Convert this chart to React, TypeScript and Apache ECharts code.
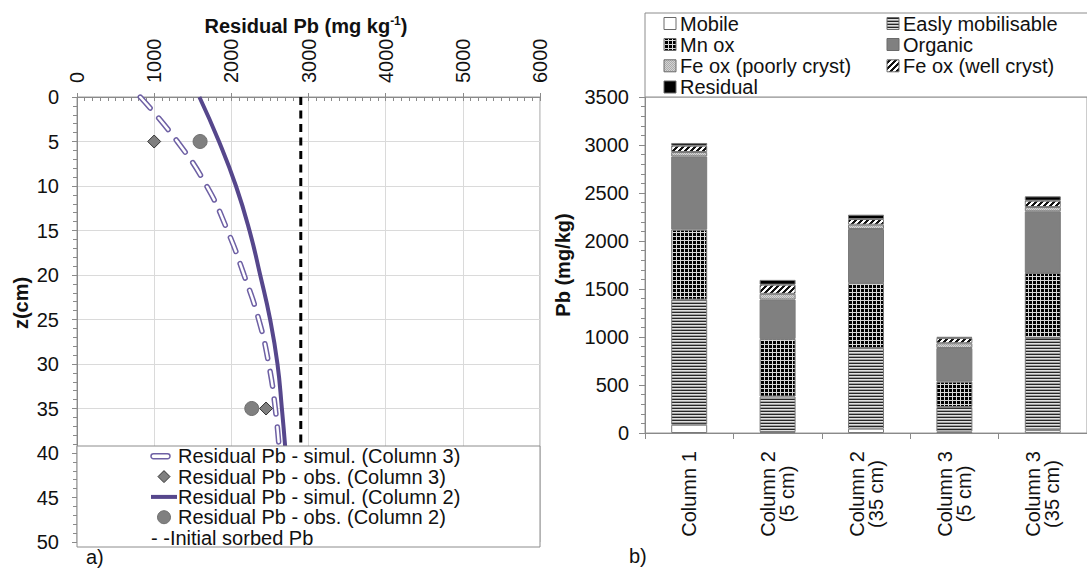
import React, { useEffect, useRef } from 'react';
import * as echarts from 'echarts';

// ---------- Panel a) data ----------
const depthSimul = [0, 5, 10, 15, 20, 25, 30, 35, 39.5];
const simulCol3 = [820, 1300, 1680, 1950, 2165, 2355, 2485, 2570, 2620];
const simulCol2 = [1586, 1840, 2060, 2235, 2374, 2503, 2598, 2655, 2700];
const depthObs = [5, 35];
const obsCol3 = [1000, 2450];
const obsCol2 = [1595, 2265];
const initialSorbedPb = 2900;
const initialDepth = [0, 40];

const legendA = [
  'Residual Pb - simul. (Column 3)',
  'Residual Pb - obs. (Column 3)',
  'Residual Pb - simul. (Column 2)',
  'Residual Pb - obs. (Column 2)',
  '- -Initial sorbed Pb',
];

// ---------- Panel b) data ----------
const columns = ['Column 1', 'Column 2\n(5 cm)', 'Column 2\n(35 cm)', 'Column 3\n(5 cm)', 'Column 3\n(35 cm)'];
const fractions = ['Mobile', 'Easly mobilisable', 'Mn ox', 'Organic', 'Fe ox (poorly cryst)', 'Fe ox (well cryst)', 'Residual'];
const mobile = [86, 10, 45, 15, 30];
const easlyMobilisable = [1303, 370, 840, 255, 960];
const mnOx = [729, 600, 677, 265, 677];
const organic = [763, 410, 563, 350, 642];
const feOxPoor = [46, 60, 45, 50, 45];
const feOxWell = [66, 95, 59, 55, 66];
const residual = [28, 50, 45, 12, 45];
const fractionValues = [mobile, easlyMobilisable, mnOx, organic, feOxPoor, feOxWell, residual];

const FONT = '"Liberation Sans", Arial, Helvetica, sans-serif';
const PURPLE = '#56478c';
const PURPLE_LIGHT = '#6e60a4';

function makePattern(w: number, h: number, draw: (ctx: CanvasRenderingContext2D) => void) {
  const c = document.createElement('canvas');
  c.width = w;
  c.height = h;
  const ctx = c.getContext('2d')!;
  draw(ctx);
  return { image: c.toDataURL(), repeat: 'repeat', imageWidth: w, imageHeight: h } as any;
}

function buildFills() {
  const easy = makePattern(4, 3, (ctx) => {
    ctx.fillStyle = '#e0e0e0';
    ctx.fillRect(0, 0, 4, 3);
    ctx.fillStyle = '#262626';
    ctx.fillRect(0, 0, 4, 1);
    ctx.fillStyle = '#a0a0a0';
    ctx.fillRect(0, 2, 4, 1);
  });
  const mn = makePattern(4, 4, (ctx) => {
    ctx.fillStyle = '#000';
    ctx.fillRect(0, 0, 4, 4);
    ctx.fillStyle = '#d8d8d8';
    ctx.fillRect(0, 0, 4, 1);
    ctx.fillRect(0, 0, 1, 4);
  });
  const fePoor = makePattern(2, 2, (ctx) => {
    ctx.fillStyle = '#d4d4d4';
    ctx.fillRect(0, 0, 2, 2);
    ctx.fillStyle = '#aaaaaa';
    ctx.fillRect(0, 0, 1, 1);
    ctx.fillRect(1, 1, 1, 1);
  });
  const feWell = makePattern(6, 6, (ctx) => {
    ctx.fillStyle = '#fff';
    ctx.fillRect(0, 0, 6, 6);
    ctx.fillStyle = '#111';
    for (let x = 0; x < 6; x++) {
      for (let y = 0; y < 6; y++) {
        if ((x + y) % 6 < 3) ctx.fillRect(x, y, 1, 1);
      }
    }
  });
  return ['#ffffff', easy, mn, '#808080', fePoor, feWell, '#000000'];
}

const plain = (v: number) => String(v);

export default function App() {
  const ref = useRef<HTMLDivElement>(null);

  useEffect(() => {
    if (!ref.current) return;
    const chart = echarts.init(ref.current, undefined, { renderer: 'svg' });
    const fills = buildFills();

    const pairs = (xs: number[], zs: number[]) => zs.map((z, i) => [xs[i], z]);
    const txt = { fontFamily: FONT, fontSize: 20, color: '#111' };

    const barSeries = fractions.map((name, i) => ({
      name,
      type: 'bar',
      stack: 'pb',
      xAxisIndex: 2,
      yAxisIndex: 2,
      barWidth: 36,
      data: fractionValues[i],
      itemStyle: { color: fills[i], borderColor: '#7a7a7a', borderWidth: 1 },
    }));

    // legend a)
    const la = { x0: 77, y0: 446, x1: 540, y1: 547, rows: [456.3, 476.6, 496.9, 517.2, 537.5], tx: 178 };
    const legendAEls: any[] = [
      { type: 'rect', z: 100, shape: { x: la.x0, y: la.y0, width: la.x1 - la.x0, height: la.y1 - la.y0 }, style: { fill: '#fff', stroke: '#8c8c8c', lineWidth: 1 } },
      { type: 'rect', z: 101, shape: { x: 151, y: la.rows[0] - 2.5, width: 19, height: 5, r: 2.5 }, style: { fill: '#fff', stroke: PURPLE_LIGHT, lineWidth: 1.5 } },
      { type: 'polygon', z: 101, shape: { points: [[164, la.rows[1] - 6], [170, la.rows[1]], [164, la.rows[1] + 6], [158, la.rows[1]]] }, style: { fill: '#7f7f7f', stroke: '#333', lineWidth: 1 } },
      { type: 'line', z: 101, shape: { x1: 151, y1: la.rows[2], x2: 177, y2: la.rows[2] }, style: { stroke: PURPLE, lineWidth: 4 } },
      { type: 'circle', z: 101, shape: { cx: 164, cy: la.rows[3], r: 6.5 }, style: { fill: '#808080', stroke: '#707070', lineWidth: 1 } },
    ];
    legendA.forEach((t, i) => {
      legendAEls.push({
        type: 'text', z: 101, x: i === 4 ? 151 : la.tx, y: la.rows[i],
        style: { text: t, fontFamily: FONT, fontSize: 20, lineHeight: 19, fill: '#111', align: 'left', verticalAlign: 'middle' },
      });
    });

    // legend b)
    const lb = { x0: 645, y0: 13, rows: [23.5, 44.5, 65.8, 87], c1: 664, c2: 887 };
    const legendBEls: any[] = [
      { type: 'rect', z: 100, shape: { x: lb.x0, y: lb.y0, width: 460, height: 97 - lb.y0 }, style: { fill: '#fff', stroke: '#8c8c8c', lineWidth: 1 } },
    ];
    fractions.forEach((name, i) => {
      const col = i % 2;
      const row = Math.floor(i / 2);
      const ix = col === 0 ? lb.c1 : lb.c2;
      const cy = lb.rows[row];
      legendBEls.push({ type: 'rect', z: 101, shape: { x: ix, y: cy - 6, width: 12, height: 12 }, style: { fill: fills[i], stroke: '#6a6a6a', lineWidth: 1 } });
      legendBEls.push({ type: 'text', z: 101, x: ix + 16, y: cy, style: { text: name, fontFamily: FONT, fontSize: 20, lineHeight: 20, fill: '#111', align: 'left', verticalAlign: 'middle' } });
    });

    const option: any = {
      animation: false,
      backgroundColor: '#fff',
      grid: [
        { left: 77, top: 97, width: 463, height: 445, show: true, borderColor: '#9a9a9a', borderWidth: 1 },
        { left: 645, top: 97, width: 445, height: 336, show: true, borderColor: '#9a9a9a', borderWidth: 1 },
      ],
      xAxis: [
        {
          type: 'value', gridIndex: 0, position: 'top', min: 0, max: 6000, interval: 1000,
          axisLine: { show: true, lineStyle: { color: '#8a8a8a' } },
          axisTick: { show: true, length: 4, lineStyle: { color: '#8a8a8a' } },
          axisLabel: { ...txt, rotate: 90, margin: 14, formatter: plain },
          splitLine: { show: true, lineStyle: { color: '#dadada', width: 1 } },
        },
        {
          type: 'value', gridIndex: 0, position: 'top', min: 0, max: 6000, interval: 1000,
          axisLine: { show: false },
          axisTick: { show: true, inside: true, length: 4, lineStyle: { color: '#8a8a8a' } },
          minorTick: { show: true, splitNumber: 10, length: 4, lineStyle: { color: '#8a8a8a' } },
          axisLabel: { show: false },
          splitLine: { show: false },
        },
        {
          type: 'category', gridIndex: 1, data: columns, boundaryGap: true,
          axisLine: { show: true, lineStyle: { color: '#8a8a8a' } },
          axisTick: { show: true, length: 6, lineStyle: { color: '#8a8a8a' } },
          axisLabel: { ...txt, rotate: 90, align: 'center', margin: 61, interval: 0, lineHeight: 19 },
          splitLine: { show: false },
        },
      ],
      yAxis: [
        {
          type: 'value', gridIndex: 0, inverse: true, min: 0, max: 50, interval: 5,
          axisLine: { show: true, lineStyle: { color: '#8a8a8a' } },
          axisTick: { show: true, length: 5, lineStyle: { color: '#8a8a8a' } },
          axisLabel: { ...txt, margin: 18, formatter: plain },
          splitLine: { show: true, lineStyle: { color: '#dadada', width: 1 } },
        },
        {
          type: 'value', gridIndex: 0, inverse: true, min: 0, max: 50, interval: 5,
          axisLine: { show: false },
          axisTick: { show: false, inside: true },
          minorTick: { show: true, splitNumber: 5, length: 4, lineStyle: { color: '#8a8a8a' } },
          axisLabel: { show: false },
          splitLine: { show: false },
        },
        {
          type: 'value', gridIndex: 1, min: 0, max: 3500, interval: 500,
          axisLine: { show: true, lineStyle: { color: '#8a8a8a' } },
          axisTick: { show: true, length: 6, lineStyle: { color: '#8a8a8a' } },
          minorTick: { show: true, splitNumber: 5, length: 4, lineStyle: { color: '#8a8a8a' } },
          axisLabel: { ...txt, margin: 16, formatter: plain },
          splitLine: { show: false },
        },
      ],
      series: [
        {
          name: 'Initial sorbed Pb', type: 'line', xAxisIndex: 0, yAxisIndex: 0,
          data: initialDepth.map((z) => [initialSorbedPb, z]), showSymbol: false, symbol: 'none',
          lineStyle: { color: '#000', width: 3, type: [8, 5.5] }, z: 3,
        },
        {
          name: legendA[0], type: 'line', xAxisIndex: 0, yAxisIndex: 0, smooth: 0.5,
          data: pairs(simulCol3, depthSimul), symbol: 'none',
          lineStyle: { color: PURPLE_LIGHT, width: 5.5, type: [15, 13], cap: 'round' }, z: 3,
        },
        {
          name: 'col3-inner', type: 'line', xAxisIndex: 0, yAxisIndex: 0, smooth: 0.5,
          data: pairs(simulCol3, depthSimul), symbol: 'none', silent: true,
          lineStyle: { color: '#ffffff', width: 2.5, type: [15, 13], cap: 'round' }, z: 4,
        },
        {
          name: legendA[2], type: 'line', xAxisIndex: 0, yAxisIndex: 0, smooth: 0.5,
          data: pairs(simulCol2, depthSimul), symbol: 'none',
          lineStyle: { color: PURPLE, width: 4 }, z: 5,
        },
        {
          name: legendA[1], type: 'scatter', xAxisIndex: 0, yAxisIndex: 0,
          data: pairs(obsCol3, depthObs), symbol: 'diamond', symbolSize: 13,
          itemStyle: { color: '#7f7f7f', borderColor: '#333', borderWidth: 1, opacity: 1 }, z: 6,
        },
        {
          name: legendA[3], type: 'scatter', xAxisIndex: 0, yAxisIndex: 0,
          data: pairs(obsCol2, depthObs), symbol: 'circle', symbolSize: 14,
          itemStyle: { color: '#808080', borderColor: '#6e6e6e', borderWidth: 1, opacity: 1 }, z: 6,
        },
        ...barSeries,
      ],
      graphic: [
        {
          type: 'text', z: 100, x: 306, y: 26,
          style: {
            text: '{a|Residual Pb (mg kg}{s|-1}{a|)}',
            align: 'center', verticalAlign: 'middle', fill: '#111',
            rich: {
              a: { fontFamily: FONT, fontSize: 20, fontWeight: 'bold', fill: '#111', lineHeight: 22 },
              s: { fontFamily: FONT, fontSize: 12, fontWeight: 'bold', fill: '#111', verticalAlign: 'top', lineHeight: 22 },
            },
          },
        },
        {
          type: 'text', z: 100, x: 21, y: 303, rotation: Math.PI / 2,
          style: { text: 'z(cm)', fontFamily: FONT, fontSize: 20, fontWeight: 'bold', fill: '#111', align: 'center', verticalAlign: 'middle' },
        },
        {
          type: 'text', z: 100, x: 563, y: 265, rotation: Math.PI / 2,
          style: { text: 'Pb (mg/kg)', fontFamily: FONT, fontSize: 20, fontWeight: 'bold', fill: '#111', align: 'center', verticalAlign: 'middle' },
        },
        { type: 'text', z: 100, x: 86, y: 557, style: { text: 'a)', fontFamily: FONT, fontSize: 20, fill: '#111', align: 'left', verticalAlign: 'middle' } },
        { type: 'text', z: 100, x: 629, y: 556, style: { text: 'b)', fontFamily: FONT, fontSize: 20, fill: '#111', align: 'left', verticalAlign: 'middle' } },
        ...legendAEls,
        ...legendBEls,
      ],
    };

    chart.setOption(option);
    return () => chart.dispose();
  }, []);

  return <div ref={ref} style={{ position: 'absolute', left: 0, top: 0, width: 1087, height: 568 }} />;
}
